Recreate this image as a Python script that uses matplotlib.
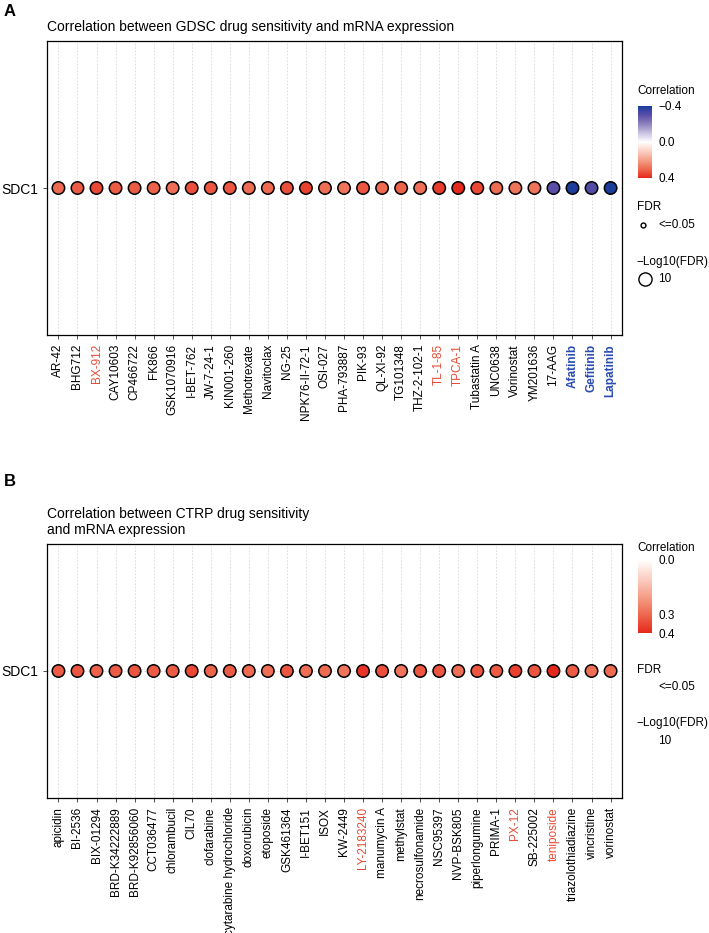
import numpy as np
import matplotlib
matplotlib.use("Agg")
import matplotlib.pyplot as plt
from matplotlib.colors import LinearSegmentedColormap, Normalize
from matplotlib.lines import Line2D
from matplotlib.colorbar import ColorbarBase

plt.rcParams["font.family"] = ["Liberation Sans", "DejaVu Sans"]

# ---- data ----
gene = "SDC1"

gdsc_drugs = ["AR-42", "BHG712", "BX-912", "CAY10603", "CP466722", "FK866",
              "GSK1070916", "I-BET-762", "JW-7-24-1", "KIN001-260", "Methotrexate",
              "Navitoclax", "NG-25", "NPK76-II-72-1", "OSI-027", "PHA-793887",
              "PIK-93", "QL-XI-92", "TG101348", "THZ-2-102-1", "TL-1-85", "TPCA-1",
              "Tubastatin A", "UNC0638", "Vorinostat", "YM201636", "17-AAG",
              "Afatinib", "Gefitinib", "Lapatinib"]
gdsc_cor = [0.30, 0.32, 0.35, 0.32, 0.32, 0.31, 0.29, 0.34, 0.33, 0.33, 0.30,
            0.30, 0.34, 0.36, 0.29, 0.28, 0.33, 0.30, 0.31, 0.29, 0.37, 0.40,
            0.35, 0.30, 0.28, 0.28, -0.30, -0.40, -0.31, -0.40]
gdsc_red = ["BX-912", "TL-1-85", "TPCA-1"]
gdsc_blue = ["Afatinib", "Gefitinib", "Lapatinib"]

ctrp_drugs = ["apicidin", "BI-2536", "BIX-01294", "BRD-K34222889", "BRD-K92856060",
              "CCT036477", "chlorambucil", "CIL70", "clofarabine",
              "cytarabine hydrochloride", "doxorubicin", "etoposide", "GSK461364",
              "I-BET151", "ISOX", "KW-2449", "LY-2183240", "manumycin A", "methylstat",
              "necrosulfonamide", "NSC95397", "NVP-BSK805", "piperlongumine",
              "PRIMA-1", "PX-12", "SB-225002", "teniposide", "triazolothiadiazine",
              "vincristine", "vorinostat"]
ctrp_cor = [0.32, 0.33, 0.31, 0.32, 0.33, 0.32, 0.32, 0.35, 0.31, 0.32, 0.30,
            0.29, 0.33, 0.29, 0.30, 0.28, 0.38, 0.34, 0.28, 0.33, 0.33, 0.29,
            0.33, 0.32, 0.36, 0.33, 0.40, 0.32, 0.29, 0.30]
ctrp_red = ["LY-2183240", "PX-12", "teniposide"]

RED_TXT = "#E64B35"
BLUE_TXT = "#2A4BB0"

# blue - white - red, roughly like ggplot gradient2
cmap = LinearSegmentedColormap.from_list(
    "bwr_gg",
    [(0.0, "#1B3C9B"), (0.125, "#5A4EA8"), (0.25, "#8F83C0"), (0.375, "#C9C2E0"),
     (0.5, "#FFFFFF"), (0.625, "#FBD0C4"), (0.75, "#F6A08A"), (0.875, "#EE6A50"),
     (1.0, "#E6281C")])
norm = Normalize(-0.4, 0.4)

W, H = 709, 933
fig = plt.figure(figsize=(W / 100, H / 100), dpi=100)


def fx(px):
    return px / W


def fy(py):
    return 1 - py / H


def dot_panel(rect, drugs, cor, red, blue, title):
    ax = fig.add_axes(rect)
    x = np.arange(len(drugs))
    ax.scatter(x, np.zeros(len(drugs)), s=80, c=cmap(norm(np.array(cor))),
               edgecolors="black", linewidths=1.1, zorder=3)
    ax.set_xlim(-0.6, len(drugs) - 0.4)
    ax.set_ylim(-1, 1)
    ax.set_xticks(x)
    ax.set_xticklabels(drugs, rotation=90, fontsize=8.5)
    ax.set_yticks([0])
    ax.set_yticklabels([gene], fontsize=10)
    for lab in ax.get_xticklabels():
        t = lab.get_text()
        if t in red:
            lab.set_color(RED_TXT)
        elif t in blue:
            lab.set_color(BLUE_TXT)
            lab.set_fontweight("bold")
    ax.grid(True, color="#d8d8d8", linestyle=(0, (2, 2)), linewidth=0.6, zorder=0)
    ax.tick_params(length=3, width=0.6, color="#333333")
    for s in ax.spines.values():
        s.set_linewidth(0.9)
    ax.set_title(title, loc="left", fontsize=10, pad=7)
    return ax


dot_panel([fx(47), fy(335), fx(622) - fx(47), fy(41) - fy(335)],
          gdsc_drugs, gdsc_cor, gdsc_red, gdsc_blue,
          "Correlation between GDSC drug sensitivity and mRNA expression")
dot_panel([fx(47), fy(798), fx(622) - fx(47), fy(544) - fy(798)],
          ctrp_drugs, ctrp_cor, ctrp_red, [],
          "Correlation between CTRP drug sensitivity\nand mRNA expression")

fig.text(fx(4), fy(12), "A", fontsize=12, fontweight="bold", va="center")
fig.text(fx(4), fy(481), "B", fontsize=12, fontweight="bold", va="center")

# ---- colorbars ----
cax1 = fig.add_axes([fx(638), fy(178), fx(652) - fx(638), fy(106) - fy(178)])
cb1 = ColorbarBase(cax1, cmap=cmap, norm=norm, ticks=[-0.4, 0.0, 0.4])
cax1.invert_yaxis()
cb1.set_ticklabels(["\u22120.4", "0.0", "0.4"], fontsize=8.5)
cax1.tick_params(length=0, pad=5)
cb1.outline.set_visible(False)

sub = LinearSegmentedColormap.from_list("sub", [cmap(0.5), cmap(0.625), cmap(0.75),
                                                cmap(0.875), cmap(1.0)])
cax2 = fig.add_axes([fx(638), fy(633), fx(652) - fx(638), fy(560) - fy(633)])
cb2 = ColorbarBase(cax2, cmap=sub, norm=Normalize(0, 0.4), ticks=[0.0, 0.3, 0.4])
cax2.invert_yaxis()
cb2.set_ticklabels(["0.0", "0.3", "0.4"], fontsize=8.5)
cax2.tick_params(length=0, pad=5)
cb2.outline.set_visible(False)

# ---- legend texts ----
fig.text(fx(637), fy(91), "Correlation", fontsize=8.5, va="center")
fig.text(fx(637), fy(207), "FDR", fontsize=8.5, va="center")
fig.text(fx(658), fy(225), "<=0.05", fontsize=8.5, va="center")
fig.add_artist(Line2D([fx(643)], [fy(225)], marker="o", markersize=3.5,
                      markerfacecolor="white", markeredgecolor="black",
                      markeredgewidth=1.0, linestyle="none"))
fig.text(fx(636), fy(262), "\u2212Log10(FDR)", fontsize=8.5, va="center")
fig.text(fx(658), fy(279), "10", fontsize=8.5, va="center")
fig.add_artist(Line2D([fx(645)], [fy(279)], marker="o", markersize=9.5,
                      markerfacecolor="white", markeredgecolor="black",
                      markeredgewidth=1.0, linestyle="none"))

fig.text(fx(637), fy(548), "Correlation", fontsize=8.5, va="center")
fig.text(fx(637), fy(670), "FDR", fontsize=8.5, va="center")
fig.text(fx(658), fy(687), "<=0.05", fontsize=8.5, va="center")
fig.text(fx(636), fy(723), "\u2212Log10(FDR)", fontsize=8.5, va="center")
fig.text(fx(658), fy(741), "10", fontsize=8.5, va="center")

fig.savefig("out.png", dpi=100)
